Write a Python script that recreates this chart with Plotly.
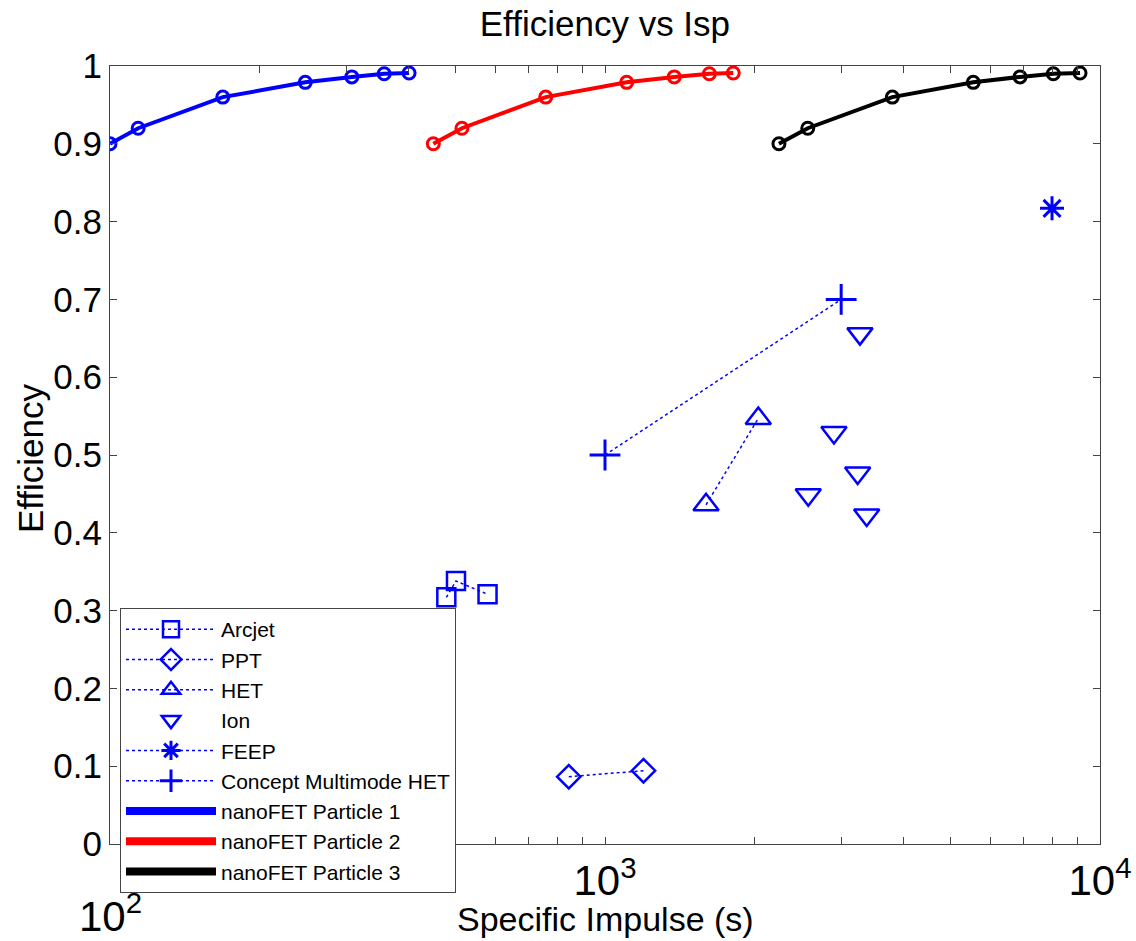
import plotly.graph_objects as go

# ---- data ----
nano_eff = [0.90, 0.92, 0.96, 0.979, 0.986, 0.990, 0.991]
nano1_isp = [100, 114, 169, 248, 308, 358, 402]
nano2_isp = [450, 514, 759, 1106, 1380, 1625, 1816]
nano3_isp = [2246, 2568, 3806, 5546, 6893, 8048, 9113]

arcjet_isp = [478, 500, 579]
arcjet_eff = [0.317, 0.338, 0.321]
ppt_isp = [845, 1196]
ppt_eff = [0.0865, 0.0942]
het_isp = [1600, 2040]
het_eff = [0.436, 0.547]
ion_isp = [3274, 2901, 3239, 2574, 3378]
ion_eff = [0.656, 0.529, 0.477, 0.449, 0.423]
feep_isp = [8000]
feep_eff = [0.817]
concept_isp = [1000, 3000]
concept_eff = [0.50, 0.70]

x_tickvals = [100, 200, 300, 400, 500, 600, 700, 800, 900,
              1000, 2000, 3000, 4000, 5000, 6000, 7000, 8000, 9000, 10000]
# the 10^2 label is drawn a little lower (as in the reference) via an annotation
x_ticktext = [""] * 9 + ["10<sup>3</sup>"] + [""] * 8 + ["10<sup>4</sup>"]
y_tickvals = [0, 0.1, 0.2, 0.3, 0.4, 0.5, 0.6, 0.7, 0.8, 0.9, 1.0]

BLUE = "rgb(0,0,255)"
FONT = "Liberation Sans, Arial, sans-serif"

fig = go.Figure()

def pts(name, x, y, symbol, size, mode="lines+markers", lw=2.5):
    fig.add_trace(go.Scatter(
        x=x, y=y, name=name, mode=mode,
        line=dict(color=BLUE, width=1.5, dash="dot"),
        marker=dict(symbol=symbol, size=size, color=BLUE,
                    line=dict(color=BLUE, width=lw)),
    ))

pts("Arcjet", arcjet_isp, arcjet_eff, "square-open", 18)
pts("PPT", ppt_isp, ppt_eff, "diamond-open", 18)
pts("HET", het_isp, het_eff, "triangle-up-open", 22)
pts("Ion", ion_isp, ion_eff, "triangle-down-open", 22, mode="markers")
pts("FEEP", feep_isp, feep_eff, "asterisk-open", 20, lw=3)
pts("Concept Multimode HET", concept_isp, concept_eff, "cross-thin-open", 22, lw=3)

for name, xs, col in [("nanoFET Particle 1", nano1_isp, "rgb(0,0,255)"),
                      ("nanoFET Particle 2", nano2_isp, "rgb(255,0,0)"),
                      ("nanoFET Particle 3", nano3_isp, "rgb(0,0,0)")]:
    fig.add_trace(go.Scatter(
        x=xs, y=nano_eff, mode="lines+markers", showlegend=False, name=name,
        line=dict(color=col, width=4),
        marker=dict(symbol="circle-open", size=12, color=col,
                    line=dict(color=col, width=3)),
    ))
    fig.add_trace(go.Scatter(
        x=[None], y=[None], mode="lines", name=name,
        line=dict(color=col, width=8),
    ))

axis_common = dict(
    showgrid=False, zeroline=False, showline=True, mirror="ticks",
    linecolor="#444", linewidth=1, ticks="inside", tickcolor="#444",
    ticklen=7, automargin=False,
)

fig.update_xaxes(
    type="log", range=[2, 4], tickmode="array",
    tickvals=x_tickvals, ticktext=x_ticktext,
    tickfont=dict(family=FONT, size=42, color="black"),
    **axis_common,
)
fig.update_yaxes(
    range=[0, 1], tickmode="array", tickvals=y_tickvals,
    tickfont=dict(family=FONT, size=35, color="black"),
    **axis_common,
)

fig.add_annotation(text="10<sup>2</sup>", x=2, xref="x", y=-0.0514, yref="paper",
                   xanchor="center", yanchor="top", showarrow=False,
                   font=dict(family=FONT, size=42, color="black"))
fig.add_annotation(text="Specific Impulse (s)", x=0.5, xref="paper",
                   y=-0.0964, yref="paper", xanchor="center", yanchor="middle",
                   showarrow=False, font=dict(family=FONT, size=34, color="black"))
fig.add_annotation(text="Efficiency", x=-0.0808, xref="paper", y=0.496, yref="paper",
                   xanchor="center", yanchor="middle", textangle=-90,
                   showarrow=False, font=dict(family=FONT, size=35, color="black"))

fig.update_layout(
    width=1136, height=941,
    margin=dict(l=110, r=36, t=66, b=97, autoexpand=False),
    paper_bgcolor="white", plot_bgcolor="white",
    title=dict(text="Efficiency vs Isp", x=0.5325, xanchor="center",
               y=0.9745, yanchor="middle",
               font=dict(family=FONT, size=35, color="black")),
    legend=dict(x=0.0101, y=0.3033, xanchor="left", yanchor="top",
                bgcolor="white", bordercolor="#444", borderwidth=1,
                font=dict(family=FONT, size=21, color="black"),
                itemwidth=90, tracegroupgap=0),
    showlegend=True,
)

fig.write_html("out.html", config={"displayModeBar": False},
               post_script="document.body.style.margin='0px';document.body.style.overflow='hidden';")
